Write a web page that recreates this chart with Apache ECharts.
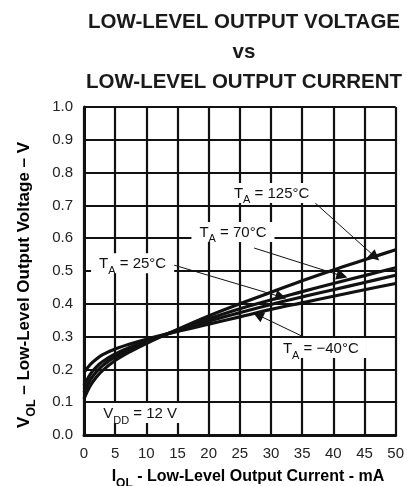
<!DOCTYPE html>
<html>
<head>
<meta charset="utf-8">
<script src="https://cdn.jsdelivr.net/npm/echarts@6/dist/echarts.min.js"></script>
<style>
html,body{margin:0;padding:0;background:#fff;}
#c{width:407px;height:486px;}
</style>
</head>
<body>
<div id="c"></div>
<script>
// ---- data ----
var currentTicks = [0, 5, 10, 15, 20, 25, 30, 35, 40, 45, 50];
var voltageTicks = [0.0, 0.1, 0.2, 0.3, 0.4, 0.5, 0.6, 0.7, 0.8, 0.9, 1.0];
var currentMA = [0, 1, 2, 3, 5, 7.5, 10, 15, 20, 25, 30, 35, 40, 45, 50];
var vol_m40 = [0.19, 0.215, 0.232, 0.245, 0.262, 0.278, 0.292, 0.316, 0.338, 0.36, 0.383, 0.403, 0.423, 0.443, 0.462];
var vol_25  = [0.15, 0.185, 0.208, 0.224, 0.247, 0.268, 0.287, 0.318, 0.347, 0.373, 0.398, 0.421, 0.443, 0.465, 0.487];
var vol_70  = [0.13, 0.168, 0.193, 0.212, 0.238, 0.262, 0.283, 0.32, 0.354, 0.385, 0.412, 0.437, 0.462, 0.486, 0.51];
var vol_125 = [0.11, 0.15, 0.177, 0.197, 0.227, 0.255, 0.279, 0.322, 0.363, 0.40, 0.435, 0.47, 0.503, 0.534, 0.565];
var seriesNames = ['T_A = −40°C', 'T_A = 25°C', 'T_A = 70°C', 'T_A = 125°C'];
var labelTexts = ['{n|T}{s|A}{n| = −40°C}', '{n|T}{s|A}{n| = 25°C}', '{n|T}{s|A}{n| = 70°C}', '{n|T}{s|A}{n| = 125°C}'];
// annotation anchor points (data units): label centre, arrow start, arrow end
var labelPos = [[38.0, 0.265], [7.8, 0.524], [23.9, 0.619], [30.1, 0.738]];
var arrowFrom = [[34.9, 0.302], [13.9, 0.521], [27.3, 0.570], [37.1, 0.707]];
var arrowTo   = [[27.9, 0.366], [31.6, 0.421], [41.4, 0.485], [46.7, 0.543]];
var vddLabel = '{n|V}{s|DD}{n| = 12 V}';
var vddPos = [9.0, 0.067];

var FONT = '"Liberation Sans", Arial, Helvetica, sans-serif';
function pairs(xs, ys){ return xs.map(function(x,i){ return [x, ys[i]]; }); }
var richLab = {
  n: {fontSize: 15, fontFamily: FONT, color: '#111', lineHeight: 20, verticalAlign: 'bottom', padding:[0,0,2,0]},
  s: {fontSize: 11, fontFamily: FONT, color: '#111', lineHeight: 12, verticalAlign: 'bottom', padding:[0,0,-3,0]}
};

var chart = echarts.init(document.getElementById('c'), null, {renderer: 'canvas'});
var curves = [vol_m40, vol_25, vol_70, vol_125];
var series = curves.map(function(v, k){
  return {
    name: seriesNames[k], type: 'line', smooth: 0.35, symbol: 'none',
    data: pairs(currentMA, v),
    lineStyle: {color: '#111', width: 3.2},
    silent: true, z: 3
  };
});
// annotations
var mpData = labelTexts.map(function(t, k){
  return {coord: labelPos[k], label: {formatter: t}};
});
mpData.push({coord: vddPos, label: {formatter: vddLabel, padding: [0, 3]}});
var mlData = arrowFrom.map(function(f, k){ return [{coord: f}, {coord: arrowTo[k]}]; });
series.push({
  type: 'line', data: [], silent: true, z: 5,
  markLine: {
    silent: true, animation: false, symbol: ['none', 'triangle'], symbolSize: 11,
    lineStyle: {color: '#111', width: 1, type: 'solid'}, itemStyle: {color: '#111'}, label: {show: false},
    data: mlData
  },
  markPoint: {
    silent: true, animation: false, symbol: 'rect', symbolSize: 1,
    itemStyle: {color: 'rgba(0,0,0,0)'},
    label: {show: true, position: 'inside', backgroundColor: '#fff', padding: [0, 8], rich: richLab, color: '#111'},
    data: mpData
  }
});

var nameRich = {
  b: {fontSize: 17, fontWeight: 'bold', fontFamily: FONT, color: '#1a1a1a', lineHeight: 20, verticalAlign: 'bottom', padding: [0,0,2,0]},
  s: {fontSize: 12.5, fontWeight: 'bold', fontFamily: FONT, color: '#1a1a1a', lineHeight: 13, verticalAlign: 'bottom', padding: [0,0,-3,0]}
};
var xNameRich = {
  b: {fontSize: 16, fontWeight: 'bold', fontFamily: FONT, color: '#1a1a1a', lineHeight: 20, verticalAlign: 'bottom', padding: [0,0,2,0]},
  s: {fontSize: 12, fontWeight: 'bold', fontFamily: FONT, color: '#1a1a1a', lineHeight: 13, verticalAlign: 'bottom', padding: [0,0,-3,0]}
};

chart.setOption({
  animation: false,
  grid: {left: 84, right: 2, top: 107, bottom: 51, containLabel: false},
  xAxis: {
    type: 'value', min: 0, max: 50, interval: 5,
    axisLine: {show: true, onZero: false, lineStyle: {color: '#111', width: 3}},
    axisTick: {show: false},
    splitLine: {show: true, lineStyle: {color: '#111', width: 2.2}},
    axisLabel: {fontSize: 15, fontFamily: FONT, color: '#222', margin: 11,
      formatter: function(v){ return currentTicks.indexOf(v) >= 0 ? String(v) : ''; }}
  },
  yAxis: {
    type: 'value', min: 0, max: 1, interval: 0.1,
    axisLine: {show: true, onZero: false, lineStyle: {color: '#111', width: 3}},
    axisTick: {show: false},
    splitLine: {show: true, lineStyle: {color: '#111', width: 2.2}},
    axisLabel: {fontSize: 15, fontFamily: FONT, color: '#222', margin: 11,
      formatter: function(v){ var t = voltageTicks.filter(function(x){return Math.abs(x-v)<1e-6;}); return t.length ? t[0].toFixed(1) : ''; }}
  },
  series: series,
  graphic: [
    {type: 'text', x: 244, y: 22, style: {text: 'LOW-LEVEL OUTPUT VOLTAGE', align: 'center', verticalAlign: 'middle', font: 'bold 20.5px ' + FONT, fill: '#1a1a1a'}},
    {type: 'text', x: 244, y: 52, style: {text: 'vs', align: 'center', verticalAlign: 'middle', font: 'bold 20.5px ' + FONT, fill: '#1a1a1a'}},
    {type: 'text', x: 244, y: 82, style: {text: 'LOW-LEVEL OUTPUT CURRENT', align: 'center', verticalAlign: 'middle', font: 'bold 20.5px ' + FONT, fill: '#1a1a1a'}},
    {type: 'text', x: 248, y: 477, style: {
      text: '{b|I}{s|OL}{b| - Low-Level Output Current - mA}', align: 'center', verticalAlign: 'middle',
      rich: xNameRich}},
    {type: 'text', x: 25, y: 285, rotation: Math.PI / 2, style: {
      text: '{b|V}{s|OL}{b| – Low-Level Output Voltage – V}', align: 'center', verticalAlign: 'middle',
      rich: nameRich}}
  ]
});
</script>
</body>
</html>
